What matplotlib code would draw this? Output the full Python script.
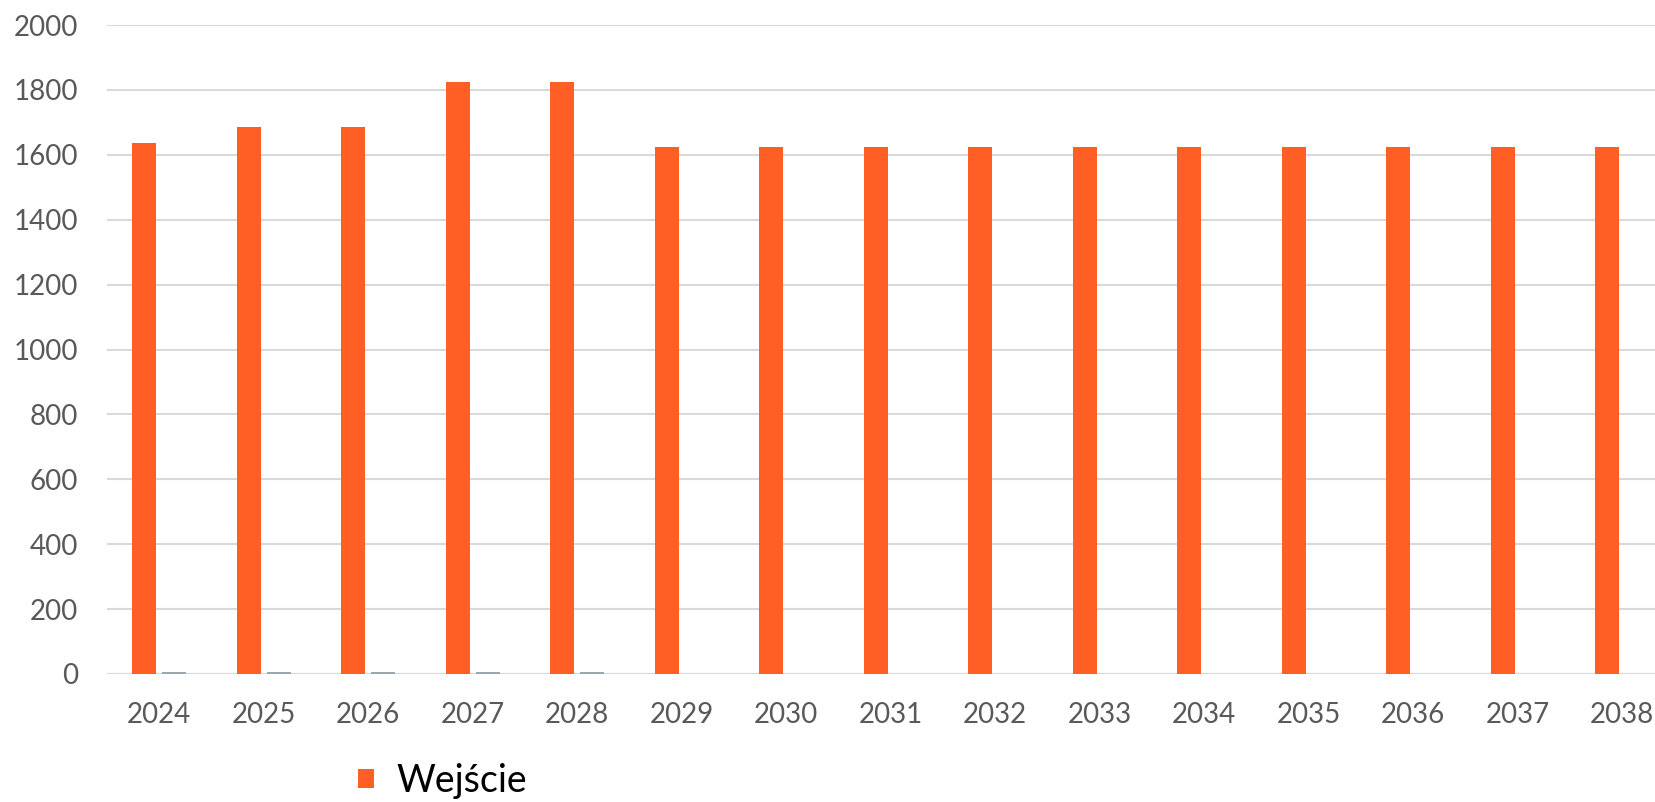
import numpy as np
import matplotlib.pyplot as plt

# chart values
years = ['2024', '2025', '2026', '2027', '2028', '2029', '2030', '2031',
         '2032', '2033', '2034', '2035', '2036', '2037', '2038']
wejscie = [1635, 1687, 1687, 1824, 1824, 1625, 1625, 1625,
           1625, 1625, 1625, 1625, 1625, 1625, 1625]
drugi = [6, 6, 6, 6, 6, 0, 0, 0, 0, 0, 0, 0, 0, 0, 0]

ORANGE = '#FF5E25'
GREY = '#9DA8AE'

plt.rcParams['font.family'] = ['Lato', 'DejaVu Sans']

fig = plt.figure(figsize=(16.55, 8.02), dpi=100)
ax = fig.add_axes([107/1655, 1-674/802, 1-107/1655, (674-25)/802])

x = np.arange(len(years))
w = 0.23
off = 0.142
b1 = ax.bar(x-off, wejscie, w, color=ORANGE, zorder=3)
ax.bar(x+off, drugi, w, color=GREY, zorder=3)

ax.set_ylim(0, 2000)
ax.set_xlim(-0.5, -0.5 + 1548/104.5)
ax.set_yticks(np.arange(0, 2001, 200))
ax.set_xticks(x)
ax.set_xticklabels(years)
ax.grid(axis='y', color='#d9d9d9', linewidth=1.5, zorder=0)
ax.tick_params(length=0, labelsize=20, colors='#595959')
ax.tick_params(axis='y', pad=21)
ax.tick_params(axis='x', pad=20)
for s in ax.spines.values():
    s.set_visible(False)

fig.legend(handles=[b1], labels=['Wejście'], loc='center left',
           bbox_to_anchor=(358/1655, 1-781/802), frameon=False,
           fontsize=27, handlelength=0.43, handleheight=0.43,
           handletextpad=0.6, borderpad=0, borderaxespad=0)

fig.savefig('out.png', dpi=100)
